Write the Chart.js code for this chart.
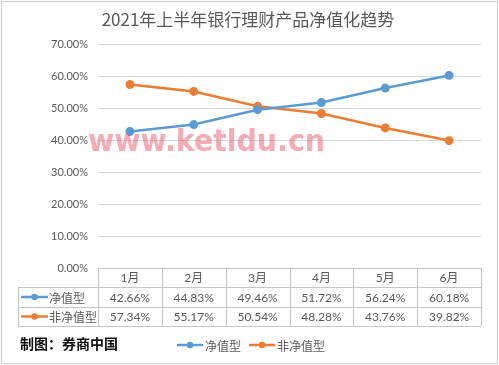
<!DOCTYPE html>
<html>
<head>
<meta charset="utf-8">
<script src="https://cdn.jsdelivr.net/npm/chart.js@4/dist/chart.umd.min.js"></script>
<style>
html,body{margin:0;padding:0;background:#fff;}
#wrap{width:499px;height:365px;position:relative;}
</style>
</head>
<body>
<div id="wrap"><canvas id="c" width="499" height="365"></canvas></div>
<script>
const categories = ['1月','2月','3月','4月','5月','6月'];
const seriesNames = ['净值型','非净值型'];
const netValue = [42.66, 44.83, 49.46, 51.72, 56.24, 60.18];
const nonNetValue = [57.34, 55.17, 50.54, 48.28, 43.76, 39.82];
const yTicks = [0,10,20,30,40,50,60,70];
const titleText = '2021年上半年银行理财产品净值化趋势';
const footerText = '制图：券商中国';
const watermarkText = 'www.ketldu.cn';

const COLORS = ['#5b9bd5','#ed7d31'];
const FONT_CJK = '"Noto Sans CJK SC", sans-serif';
const FONT_NUM = 'Lato, "Noto Sans CJK SC", sans-serif';

function drawMarker(ctx, x1, x2, y, color){
  ctx.save();
  ctx.strokeStyle = color; ctx.lineWidth = 2.5;
  ctx.beginPath(); ctx.moveTo(x1, y); ctx.lineTo(x2, y); ctx.stroke();
  ctx.fillStyle = color;
  ctx.beginPath(); ctx.arc((x1+x2)/2, y, 3.2, 0, Math.PI*2); ctx.fill();
  ctx.restore();
}

const extras = {
  id: 'extras',
  beforeDraw(chart){
    const ctx = chart.ctx;
    ctx.save();
    ctx.fillStyle = '#fff';
    ctx.fillRect(0,0,chart.width,chart.height);
    ctx.restore();
  },
  afterDraw(chart){
    const ctx = chart.ctx;
    const xs = chart.scales.x;
    const area = chart.chartArea;
    const n = categories.length;
    const step = (area.right - area.left) / n;
    const tableLeft = 18;
    const rowTop = [area.bottom, area.bottom + 19, area.bottom + 39, area.bottom + 58];
    ctx.save();
    // Title
    ctx.fillStyle = '#595959';
    ctx.font = '17px ' + FONT_CJK;
    ctx.textAlign = 'center'; ctx.textBaseline = 'middle';
    ctx.fillText(titleText, 248, 20);

    // Table grid
    ctx.strokeStyle = '#c6c6c6'; ctx.lineWidth = 1;
    ctx.beginPath();
    ctx.moveTo(area.left, rowTop[0] + 0.5); ctx.lineTo(area.right, rowTop[0] + 0.5);
    for (let r = 1; r < 4; r++){
      ctx.moveTo(tableLeft, rowTop[r] + 0.5); ctx.lineTo(area.right, rowTop[r] + 0.5);
    }
    ctx.moveTo(tableLeft + 0.5, rowTop[1]); ctx.lineTo(tableLeft + 0.5, rowTop[3]);
    for (let i = 0; i <= n; i++){
      const x = Math.round(area.left + i*step) + 0.5;
      ctx.moveTo(x, rowTop[0]); ctx.lineTo(x, rowTop[3]);
    }
    ctx.stroke();

    // Table text
    ctx.fillStyle = '#595959';
    ctx.textAlign = 'center'; ctx.textBaseline = 'middle';
    const data = [netValue, nonNetValue];
    categories.forEach((c, i) => {
      const cx = xs.getPixelForValue(i);
      ctx.font = '12px ' + FONT_NUM;
      ctx.fillText(c, cx, (rowTop[0]+rowTop[1])/2 + 1);
      for (let s = 0; s < 2; s++){
        ctx.fillText(data[s][i].toFixed(2) + '%', cx, (rowTop[s+1]+rowTop[s+2])/2 + 1);
      }
    });
    chart.data.datasets.forEach((ds, s) => {
      const y = (rowTop[s+1]+rowTop[s+2])/2;
      drawMarker(ctx, 21, 48, y, ds.borderColor);
      ctx.fillStyle = '#595959';
      ctx.font = '12px ' + FONT_CJK;
      ctx.textAlign = 'left';
      ctx.fillText(ds.label, 49, y + 1);
    });

    // Footer
    ctx.fillStyle = '#111';
    ctx.font = 'bold 14px ' + FONT_CJK;
    ctx.textAlign = 'left';
    ctx.fillText(footerText, 20, 344);

    // Bottom legend
    const legX = [177, 249];
    chart.data.datasets.forEach((ds, s) => {
      drawMarker(ctx, legX[s], legX[s] + 26, 345, ds.borderColor);
      ctx.fillStyle = '#595959';
      ctx.font = '12px ' + FONT_CJK;
      ctx.textAlign = 'left';
      ctx.fillText(ds.label, legX[s] + 28, 346);
    });

    // Watermark
    ctx.font = 'bold 30px "DejaVu Sans", sans-serif';
    ctx.textAlign = 'left'; ctx.textBaseline = 'alphabetic';
    const w = ctx.measureText(watermarkText).width;
    ctx.translate(88, 151);
    ctx.scale(237 / w, 1);
    ctx.fillStyle = 'rgba(236,90,108,0.5)';
    ctx.fillText(watermarkText, 0, 0);
    ctx.restore();

    // Outer border
    ctx.save();
    ctx.strokeStyle = '#d0d0d0'; ctx.lineWidth = 1;
    ctx.strokeRect(1.5, 1.5, chart.width - 3, chart.height - 3);
    ctx.restore();
  }
};

new Chart(document.getElementById('c'), {
  type: 'line',
  data: {
    labels: categories,
    datasets: [
      { label: seriesNames[0], data: netValue, borderColor: COLORS[0], backgroundColor: COLORS[0],
        pointBackgroundColor: COLORS[0], pointBorderColor: COLORS[0], borderWidth: 2.5, pointRadius: 3.2, tension: 0 },
      { label: seriesNames[1], data: nonNetValue, borderColor: COLORS[1], backgroundColor: COLORS[1],
        pointBackgroundColor: COLORS[1], pointBorderColor: COLORS[1], borderWidth: 2.5, pointRadius: 3.2, tension: 0 }
    ]
  },
  options: {
    responsive: false,
    animation: false,
    devicePixelRatio: 1,
    layout: { padding: { left: 0, right: 18, top: 44, bottom: 97 } },
    plugins: { legend: { display: false }, title: { display: false }, tooltip: { enabled: false } },
    scales: {
      x: { type: 'category', display: false, offset: true },
      y: {
        min: 0, max: 70,
        afterFit(scale){ scale.width = 98; },
        afterBuildTicks(scale){ scale.ticks = yTicks.map(v => ({ value: v })); },
        border: { display: false },
        grid: { color: '#d9d9d9', lineWidth: 1, drawTicks: false },
        ticks: {
          padding: 10,
          color: '#595959',
          font: { family: 'Lato, "Noto Sans CJK SC", sans-serif', size: 11 },
          callback: v => Number(v).toFixed(2) + '%'
        }
      }
    }
  },
  plugins: [extras]
});
</script>
</body>
</html>
